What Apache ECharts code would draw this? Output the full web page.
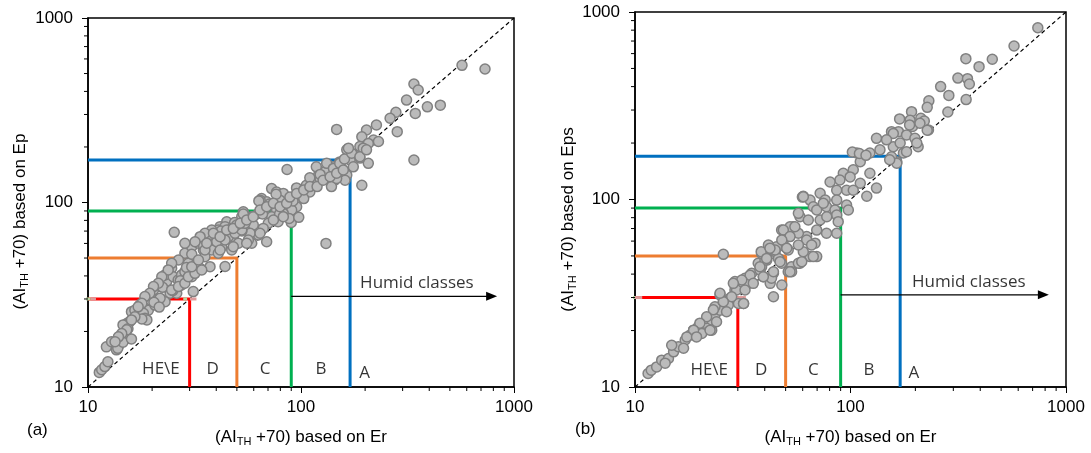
<!DOCTYPE html>
<html>
<head>
<meta charset="utf-8">
<title>AI_TH based on Er vs Ep / Eps</title>
<script src="https://cdn.jsdelivr.net/npm/echarts@6.0.0/dist/echarts.min.js"></script>
<style>
  html, body { margin: 0; padding: 0; background: #fff; }
  #main { width: 1091px; height: 453px; }
</style>
</head>
<body>
<div id="main"></div>
<script>
// (a) AI_TH + 70 from Er (x) against Ep (y)
var erA = [570, 731, 339, 355, 313, 392, 451, 344, 279, 262, 283, 147, 339, 193, 131, 86, 25.4, 44,
  226, 203, 193, 219, 231, 207, 189, 164, 196, 179, 207, 189, 170, 152, 142, 155, 147, 164, 144, 161, 139,
  72.8, 76.8, 82.6, 65.3, 69, 79.6, 87.1, 95.4, 98.9, 106, 114, 121, 130, 118, 132, 142, 152, 147, 160, 173, 167,
  123, 110, 103, 92, 90.4, 82.6, 76.8, 72.8, 78.1, 70.2, 66.5, 64.3, 63.1, 58.7, 53.6, 52.7, 59.7, 66.5, 69,
  63.1, 57.7, 51.8, 48.1, 44.8, 41.7, 48.1, 43.2, 38.7, 36, 34.8, 40.2, 58.7, 90, 88,
  11.3, 11.6, 12.0, 12.4, 12.2, 12.9, 13.9, 13.6, 15.5, 14.9, 15.2, 15.7, 14.6, 16.0, 16.6, 17.5, 18.9, 19.2,
  18.2, 19.9, 19.6, 20.6, 18.5, 18.9, 20.3, 22.2, 23.4, 23.0, 24.7, 25.1, 26.5, 27.5, 28.5, 24.3, 26.1, 23.0,
  21.8, 28.5, 30.7, 33.0, 34.8, 36.7, 38.1, 35.4, 31.8, 29.6, 33.6, 37.4, 30.7, 27.5, 31.2, 40.9, 45.6, 47.3,
  50.8, 56.6, 44,
  13.8, 14.6, 16.0, 15.4, 17.9, 20.4, 21.6, 25.0, 27.1, 22.4, 29.0, 30.7, 34.9, 37.6, 42.1, 48.8, 53.6, 52.8,
  66, 71.1, 63.4, 76.4, 79.3, 91.7, 95.3, 110, 123, 97.6,
  24.7, 26.6, 28.5, 29.6, 31.8, 34.2, 30.7, 33.0, 35.4, 40.9, 42.4, 40.2, 44.0, 49.0, 52.7, 54.6, 49.9, 47.3,
  38.1, 35.4, 33.6, 31.8, 28.5, 26.6, 24.7, 23.8, 22.2, 21.4, 20.3, 19.5, 18.5, 17.9, 17.2, 16.6, 16.0, 15.2,
  14.4, 13.9, 13.4,
  36.1, 38.8, 41.7, 44.8, 48.1, 51.8, 55.6, 59.7, 64.2, 69.0, 74.2, 79.7, 85.6, 88.7, 95.4, 103, 110, 119,
  127, 137, 147, 158, 176, 189, 203, 41.7, 48.1, 55.6, 64.2, 74.2, 82.6];
var epA = [554, 529, 439, 407, 359, 330, 337, 304, 308, 286, 242, 249, 170, 124, 60, 151, 68.9, 45,
  263, 247, 227, 218, 214, 209, 201, 193, 197, 181, 163, 174, 170, 166, 156, 153, 144, 141, 132, 132, 122,
  119, 114, 112, 105, 101, 103, 96.9, 94.8, 117, 124, 127, 141, 147, 156, 163, 153, 163, 135, 172, 185, 197,
  135, 114, 105, 105, 91, 87.3, 91, 83.7, 78.7, 77.1, 91, 103, 87.3, 83.7, 89.1, 83.7, 75.5, 72.4, 61.3,
  66.7, 68.1, 70.9, 77.1, 78.7, 74, 65.3, 62.6, 61.3, 65.3, 55.3, 55.3, 60.1, 78, 82,
  12.0, 12.4, 12.9, 13.7, 16.5, 17.6, 16.7, 15.9, 18.4, 21.2, 22.1, 22.6, 21.7, 25.6, 26.1, 27.8, 28.4, 26.1,
  25.1, 31.5, 29.6, 27.8, 23.6, 23.1, 33.6, 35.0, 37.3, 40.5, 44.0, 39.6, 38.0, 40.5, 42.2, 32.2, 32.2, 29.0,
  30.3, 53.1, 57.6, 60.1, 62.6, 65.3, 55.3, 50.8, 48.8, 46.8, 44.0, 44.9, 39.6, 35.7, 32.9, 71, 65.3, 55.3,
  60.1, 62.6, 74,
  16.2, 17.5, 18.2, 20.7, 23.4, 28.8, 27.1, 33.3, 37.7, 34.7, 44.5, 52.4, 58.2, 67.3, 70.1, 77.9, 86.6, 70.1,
  86.6, 98, 102, 111, 86.6, 102, 120, 136, 142, 83.1,
  33.6, 35.0, 36.5, 39.6, 41.3, 43.1, 44.9, 48.8, 55.3, 53.1, 57.6, 61.3, 62.6, 68.1, 71, 77.1, 75.5, 72.4,
  71, 68.1, 65.3, 61.3, 60.1, 48.8, 46.8, 43.1, 39.6, 36.5, 35.0, 32.2, 30.9, 28.4, 27.2, 24.0, 23.1, 20.4,
  19.5, 18.7, 17.6,
  60.1, 68.1, 65.3, 71, 72.4, 77.1, 80.4, 83.8, 91.1, 94.9, 99.0, 94.9, 99.0, 107, 112, 117, 122, 122,
  132, 138, 144, 150, 156, 177, 193, 55.3, 57.6, 60.1, 68.1, 80.4, 83.8];

// (b) AI_TH + 70 from Er (x) against Eps (y)
var erB = [740, 574, 343, 395, 455, 315, 349, 356, 262, 286, 344, 231, 227, 283, 192, 212, 189, 169, 220,
  194, 230, 167, 182, 199, 155, 206, 158, 176, 164, 155,
  210, 188, 158, 170, 203, 182, 132, 147, 137, 123, 107, 164, 152, 111, 123, 103, 92.6, 99.6, 89.3, 111,
  80.4, 95.9, 86.3, 103, 119, 132, 72.3, 76.3, 86.3, 95.9, 97.7, 60.4, 64.9, 67.2, 77.4, 84.7, 86.3, 87.7,
  86.3, 77.4, 72.3, 58.3, 54.2, 47.9, 51.4, 62.6, 68.5, 69.7, 64.9, 60.4, 58.3, 53.3, 49.6, 45.4, 43.9,
  40.9, 38.7, 39.4, 43.9, 42.4, 51.4,
  11.5, 11.9, 12.6, 13.3, 14.3, 13.8, 15.1, 15.9, 14.8, 17.1, 16.8, 18.0, 19.0, 19.7, 18.7, 20.4, 21.1, 21.5,
  22.7, 22.7, 23.5, 24.8, 23.5, 25.7, 24.8, 27.6, 27.1, 29.1, 31.3, 30.2, 31.9, 29.1, 32.4, 34.8, 33.6, 38.0,
  37.3, 40.1, 38.7, 25.7, 43.9, 43, 47.9, 51.4, 53.3, 57.3, 52.4, 57.3, 48.7, 44.7, 41.6, 46.3,
  59.8, 227, 102, 110, 118,
  38.5, 52.4, 48, 60.4, 57.3, 63.7, 69.7, 74.8, 77.6, 69.7, 62.6, 57.3, 67.2, 59.4, 48.8, 52.4, 48, 50.6,
  44.7, 40.8, 47.1, 43.9, 38, 39.4, 34.2, 35.4, 31.3, 29.6, 32.4, 28.1, 31.9, 25.7, 24.8, 28.6, 23.1, 26.6,
  21.5, 23.9, 20, 22.3, 18.7, 17.4, 19.3, 42.3, 55.2, 66];
var epsB = [824, 659, 564, 511, 560, 444, 441, 413, 400, 359, 341, 336, 310, 293, 294, 271, 265, 269, 262,
  245, 235, 230, 221, 212, 230, 191, 191, 177, 159, 169,
  255, 250, 225, 200, 200, 180, 212, 208, 184, 177, 177, 156, 163, 159, 138, 144, 138, 132, 127, 122,
  124, 112, 112, 112, 104, 115, 108, 99.3, 99.3, 93.5, 87.9, 104, 99.3, 91.5, 91.5, 87.9, 82.6, 76.2,
  66.1, 66.1, 77.8, 80.9, 71.6, 68.8, 63.4, 63.4, 58.5, 49.6, 49.6, 52.7, 45.7, 43.8, 56, 56, 51.6,
  47.5, 43.8, 38.7, 40.4, 35.7, 41.2,
  11.8, 12.3, 12.8, 13.9, 14.2, 13.4, 15.4, 16.4, 16.7, 17.8, 16.1, 18.9, 19.3, 21.0, 20.1, 19.3, 21.9, 23.2,
  22.8, 20.1, 24.2, 25.7, 26.8, 28.5, 31.0, 29.7, 27.4, 32.9, 34.3, 27.9, 27.9, 36.5, 38.0, 40.4, 35.7, 42.1,
  45.7, 47.5, 51.6, 51, 30.3, 38, 45.7, 53.8, 41.2, 45.7, 71.6, 66.1, 60.8, 52.7, 57.2, 48.5,
  103, 234, 179, 176, 172,
  52.7, 41.2, 35, 103.5, 84.4, 77.8, 87.9, 95.5, 80.9, 68.7, 60.8, 57.2, 49.6, 46.6, 68.7, 63.4, 60.8, 55,
  53.8, 48.5, 46.6, 41.2, 43.8, 38.7, 39.5, 35.7, 37.2, 32.9, 32.9, 30.3, 27.9, 28.5, 31.6, 35.7, 25.8, 25.2,
  23.7, 22.3, 21.9, 20.1, 20.1, 18.5, 18.5, 55, 71.6, 57.2];

var classBounds = [30, 50, 90, 170];
var classColors = ['#FF0000', '#ED7D31', '#00B050', '#0070C0'];
var zoneNames = ['HE\\E', 'D', 'C', 'B', 'A', 'Humid classes'];
var zoneXA = [22, 38.5, 67.8, 124, 199, 350];
var zoneYA = [12.5, 12.5, 12.5, 12.5, 11.9, 36.4];
var zoneXB = [22.1, 38.5, 67.2, 122, 197, 354];
var zoneYB = [12.3, 12.3, 12.3, 12.3, 11.8, 36.4];
var arrowX = [90, 785];
var arrowY = 31;
var diagonal = [10, 1000];
var minorTickVals = [20, 30, 40, 50, 60, 70, 80, 90, 200, 300, 400, 500, 600, 700, 800, 900];
// faint leftovers at the red level (x from, x to)
var paleGreenA = [[9.4, 10.3], [28, 29.2]];
var palePinkA = [[10.3, 10.9], [30.1, 32.3]];
var paleGreenB = [[9.25, 10]];
var palePinkB = [[10, 10.8], [29.6, 32.7]];

var axisFont = 'Liberation Sans, Arial, sans-serif';
var noteFont = 'Open Sans, Noto Sans, sans-serif';

var myChart = echarts.init(document.getElementById('main'));

function pairs(xs, ys) {
  var out = [];
  for (var i = 0; i < xs.length; i++) {
    out.push([xs[i], ys[i]]);
  }
  return out;
}

function axisName(last) {
  return '{t|(AI}{s|TH}{t| +70) based on ' + last + '}';
}

var nameRich = {
  t: { fontSize: 17, fontFamily: axisFont, color: '#000' },
  s: { fontSize: 11, fontFamily: axisFont, color: '#000', padding: [8, 0, 0, 0] }
};

function makeAxis(grid, isX, last, gap, pad) {
  return {
    type: 'log',
    logBase: 10,
    gridIndex: grid,
    min: 10,
    max: 1000,
    name: axisName(last),
    nameLocation: 'middle',
    nameGap: gap,
    nameRotate: isX ? 0 : 90,
    nameTextStyle: { rich: nameRich, padding: pad },
    axisLine: { show: true, lineStyle: { color: '#000', width: 1.5 } },
    axisTick: { show: true, inside: false, length: 6, lineStyle: { color: '#000', width: 1 } },
    minorTick: { show: false },
    splitLine: { show: false },
    axisLabel: {
      fontSize: 17, fontFamily: axisFont, color: '#000', margin: isX ? 12 : 15,
      formatter: function (v) { return String(Math.round(v)); }
    }
  };
}

function panelSeries(gi, xs, ys, zx, zy, green, pink) {
  var list = [];
  list.push({
    type: 'line', xAxisIndex: gi, yAxisIndex: gi, z: 1,
    symbol: 'none', silent: true,
    data: [[diagonal[0], diagonal[0]], [diagonal[1], diagonal[1]]],
    lineStyle: { color: '#000', width: 1.2, type: [4, 3] }
  });
  // small ticks between the decades, placed through the log axes
  list.push({
    type: 'custom', xAxisIndex: gi, yAxisIndex: gi, z: 6, silent: true, clip: false,
    data: minorTickVals.map(function (v) { return [v, v]; }),
    renderItem: function (params, api) {
      var v = api.value(0);
      var bx = api.coord([v, 10]);
      var ly = api.coord([10, v]);
      return {
        type: 'group',
        children: [
          { type: 'line', shape: { x1: bx[0], y1: bx[1], x2: bx[0], y2: bx[1] + 4 }, style: { stroke: '#000', lineWidth: 1 } },
          { type: 'line', shape: { x1: ly[0], y1: ly[1], x2: ly[0] - 4, y2: ly[1] }, style: { stroke: '#000', lineWidth: 1 } }
        ]
      };
    }
  });
  for (var i = 0; i < classBounds.length; i++) {
    var v = classBounds[i];
    list.push({
      type: 'line', xAxisIndex: gi, yAxisIndex: gi, z: 2,
      symbol: 'none', silent: true,
      data: [[10, v], [v, v], [v, 10]],
      lineStyle: { color: classColors[i], width: 3 }
    });
  }
  green.forEach(function (g) {
    list.push({
      type: 'line', xAxisIndex: gi, yAxisIndex: gi, z: 2, clip: false,
      symbol: 'none', silent: true,
      data: [[g[0], classBounds[0]], [g[1], classBounds[0]]],
      lineStyle: { color: '#B5D6A0', width: 3 }
    });
  });
  pink.forEach(function (p) {
    list.push({
      type: 'line', xAxisIndex: gi, yAxisIndex: gi, z: 2, clip: false,
      symbol: 'none', silent: true,
      data: [[p[0], classBounds[0]], [p[1], classBounds[0]]],
      lineStyle: { color: '#DE9A9A', width: 3 }
    });
  });
  // arrow towards the humid classes
  list.push({
    type: 'line', xAxisIndex: gi, yAxisIndex: gi, z: 4,
    silent: true, symbol: 'none', showSymbol: true,
    data: [[arrowX[0], arrowY], { value: [arrowX[1], arrowY], symbol: 'triangle', symbolRotate: -90, symbolSize: [9, 11] }],
    lineStyle: { color: '#000', width: 1.3 },
    itemStyle: { color: '#000' }
  });
  list.push({
    type: 'scatter', xAxisIndex: gi, yAxisIndex: gi, z: 3,
    symbolSize: 10, silent: true,
    data: pairs(xs, ys),
    itemStyle: { color: '#BBBBBB', borderColor: '#808080', borderWidth: 1.5, opacity: 1 }
  });
  var notes = [];
  for (var j = 0; j < zoneNames.length; j++) {
    notes.push({ name: zoneNames[j], value: [zx[j], zy[j]] });
  }
  list.push({
    type: 'scatter', xAxisIndex: gi, yAxisIndex: gi, z: 5,
    symbolSize: 0, silent: true,
    data: notes,
    label: { show: true, position: 'inside', formatter: '{b}', fontSize: 17, fontFamily: noteFont, color: '#000' }
  });
  return list;
}

var option = {
  animation: false,
  backgroundColor: '#fff',
  grid: [
    { left: 88, top: 18, width: 426, height: 369, show: true, borderColor: '#000', borderWidth: 1.5, backgroundColor: 'transparent' },
    { left: 635, top: 12, width: 431, height: 375, show: true, borderColor: '#000', borderWidth: 1.5, backgroundColor: 'transparent' }
  ],
  xAxis: [
    makeAxis(0, true, 'Er', 41, 0),
    makeAxis(1, true, 'Er', 41, 0)
  ],
  yAxis: [
    makeAxis(0, false, 'Ep', 58, [0, 38, 0, 0]),
    makeAxis(1, false, 'Eps', 47, [0, 40, 0, 0])
  ],
  graphic: [
    { type: 'text', left: 27, top: 422, style: { text: '(a)', fontSize: 17, fontFamily: axisFont, fill: '#000' } },
    { type: 'text', left: 575, top: 421, style: { text: '(b)', fontSize: 17, fontFamily: axisFont, fill: '#000' } }
  ],
  series: panelSeries(0, erA, epA, zoneXA, zoneYA, paleGreenA, palePinkA)
    .concat(panelSeries(1, erB, epsB, zoneXB, zoneYB, paleGreenB, palePinkB))
};

myChart.setOption(option);
window.addEventListener('resize', function () {
  myChart.resize();
});
</script>
</body>
</html>
